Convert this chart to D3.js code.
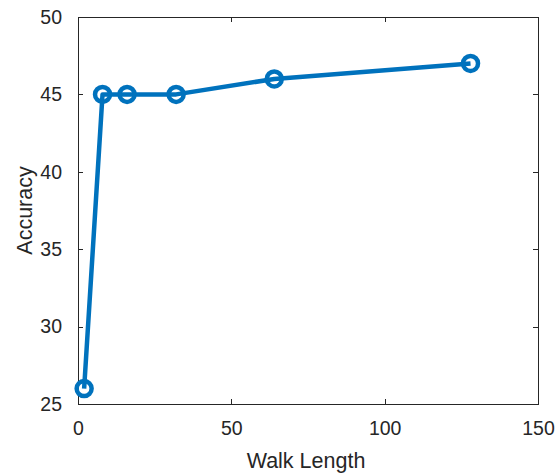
<!DOCTYPE html>
<html><head><meta charset="utf-8">
<script src="https://cdn.jsdelivr.net/npm/d3@7/dist/d3.min.js"></script>
<style>body{margin:0;background:#fff}svg{display:block}text{font-family:"Liberation Sans",Arial,Helvetica,sans-serif;fill:#262626}</style>
</head><body><svg id="c" width="560" height="474"></svg>
<script>
const walkLength = [2, 8, 16, 32, 64, 128];
const accuracy = [26, 45, 45, 45, 46, 47];
const xTicks = [0, 50, 100, 150];
const yTicks = [25, 30, 35, 40, 45, 50];

const W = 560, H = 474;
const m = {left: 78, right: 22, top: 17, bottom: 70};
const svg = d3.select("#c");
const iw = W - m.left - m.right, ih = H - m.top - m.bottom;
const x = d3.scaleLinear().domain([0, 150]).range([m.left, m.left + iw]);
const y = d3.scaleLinear().domain([25, 50]).range([m.top + ih, m.top]);
const axisCol = "#262626";

const g = svg.append("g");
// box
g.append("rect").attr("x", x(0)).attr("y", y(50)).attr("width", iw).attr("height", ih)
  .attr("fill", "none").attr("stroke", axisCol).attr("stroke-width", 1).attr("shape-rendering", "crispEdges");

function styleAxis(sel) {
  sel.select(".domain").remove();
  sel.selectAll("line").attr("stroke", axisCol).attr("shape-rendering", "crispEdges");
  sel.selectAll("text").attr("font-size", 19.5).attr("fill", axisCol)
     .attr("font-family", '"Liberation Sans",Arial,Helvetica,sans-serif');
}
const tl = 5;
g.append("g").attr("transform", `translate(0,${y(25)})`)
  .call(d3.axisBottom(x).tickValues(xTicks).tickSize(-tl).tickPadding(17))
  .call(styleAxis);
g.append("g").attr("transform", `translate(0,${y(50)})`)
  .call(d3.axisTop(x).tickValues(xTicks).tickSize(-tl).tickFormat(""))
  .call(styleAxis);
g.append("g").attr("transform", `translate(${x(0)},0)`)
  .call(d3.axisLeft(y).tickValues(yTicks).tickSize(-tl).tickPadding(16))
  .call(styleAxis);
g.append("g").attr("transform", `translate(${x(150)},0)`)
  .call(d3.axisRight(y).tickValues(yTicks).tickSize(-tl).tickFormat(""))
  .call(styleAxis);

const data = walkLength.map((d, i) => ({x: d, y: accuracy[i]}));
const col = "#0072BD";
g.append("path").datum(data)
  .attr("d", d3.line().x(d => x(d.x)).y(d => y(d.y)))
  .attr("fill", "none").attr("stroke", col).attr("stroke-width", 4.5).attr("stroke-linejoin", "round");
g.selectAll(".mk").data(data).enter().append("circle")
  .attr("cx", d => x(d.x)).attr("cy", d => y(d.y)).attr("r", 7.5)
  .attr("fill", "none").attr("stroke", col).attr("stroke-width", 4.5);

svg.append("text").attr("x", (x(0) + x(150)) / 2 - 2).attr("y", 468)
  .attr("text-anchor", "middle").attr("font-size", 21.5).text("Walk Length");
svg.append("text").attr("transform", `translate(32,${(y(25) + y(50)) / 2}) rotate(-90)`)
  .attr("text-anchor", "middle").attr("font-size", 21.5).text("Accuracy");
</script></body></html>
